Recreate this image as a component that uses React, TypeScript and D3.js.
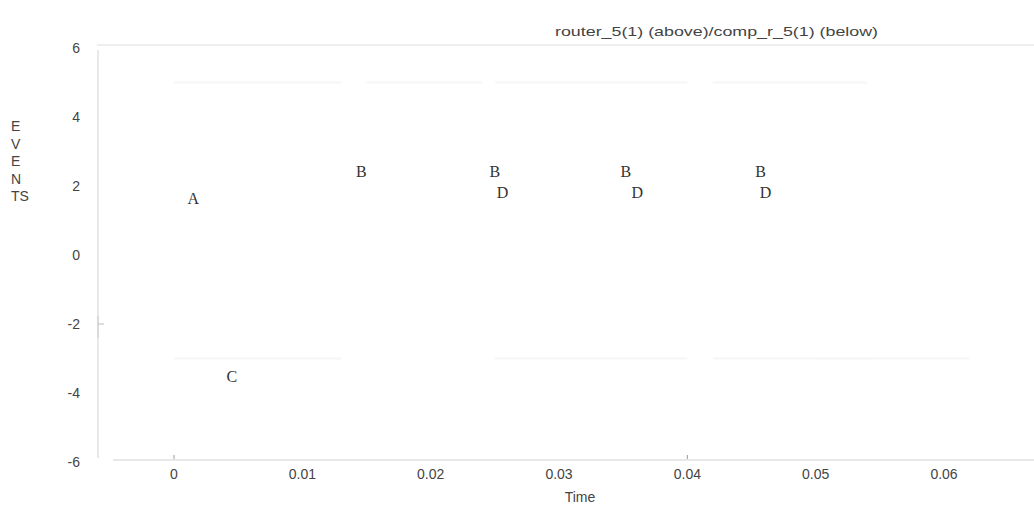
import React, { useEffect, useRef } from "react";
import * as d3 from "d3";

const W = 1034;
const H = 511;

// event markers
const eventLabels = ["A", "B", "B", "B", "B", "C", "D", "D", "D"];
const eventTimes = [0.0015, 0.0146, 0.025, 0.0352, 0.0457, 0.0045, 0.0256, 0.0361, 0.0461];
const eventValues = [1.65, 2.42, 2.42, 2.42, 2.42, -3.52, 1.82, 1.82, 1.82];

const xTicks = [0, 0.01, 0.02, 0.03, 0.04, 0.05, 0.06];
const xTickLabels = ["0", "0.01", "0.02", "0.03", "0.04", "0.05", "0.06"];
const yTicks = [6, 4, 2, 0, -2, -4, -6];

// faint leftover guide lines (time start, time end, level)
const guideStarts = [0.0, 0.015, 0.025, 0.042, 0.0, 0.025, 0.042, 0.05];
const guideEnds = [0.013, 0.024, 0.04, 0.054, 0.013, 0.04, 0.054, 0.062];
const guideLevels = [5, 5, 5, 5, -3, -3, -3, -3];

const App = () => {
  const svgRef = useRef<SVGSVGElement>(null);

  useEffect(() => {
    const svg = d3.select(svgRef.current);
    svg.selectAll("*").remove();

    const x = d3.scaleLinear().domain([0, 0.06]).range([174, 944]);
    const y = d3.scaleLinear().domain([-6, 6]).range([462, 48]);

    svg.append("rect").attr("width", W).attr("height", H).attr("fill", "#fff");

    // frame
    svg.append("line").attr("x1", 97).attr("x2", W).attr("y1", 45).attr("y2", 45)
      .attr("stroke", "#eeeeee").attr("stroke-width", 2);
    svg.append("line").attr("x1", 98).attr("x2", 98).attr("y1", 50).attr("y2", 458)
      .attr("stroke", "#e8e8e8").attr("stroke-width", 2);
    svg.append("line").attr("x1", 113).attr("x2", W).attr("y1", 460).attr("y2", 460)
      .attr("stroke", "#e8e8e8").attr("stroke-width", 2);
    svg.append("line").attr("x1", 98).attr("x2", 104).attr("y1", y(-2)).attr("y2", y(-2))
      .attr("stroke", "#bbb");
    svg.append("line").attr("x1", 98).attr("x2", 98).attr("y1", y(-2) - 8).attr("y2", y(-2) + 14)
      .attr("stroke", "#ccc");

    // faint guides
    svg.append("g").selectAll("line").data(guideLevels).join("line")
      .attr("x1", (_, i) => x(guideStarts[i]))
      .attr("x2", (_, i) => x(guideEnds[i]))
      .attr("y1", (d) => y(d))
      .attr("y2", (d) => y(d))
      .attr("stroke", "#f6f6f6")
      .attr("stroke-width", 2);

    // y tick labels
    svg.append("g").selectAll("text").data(yTicks).join("text")
      .attr("x", 80)
      .attr("y", (d) => y(d))
      .attr("dy", "0.35em")
      .attr("text-anchor", "end")
      .attr("font-family", "Liberation Sans, Arial, sans-serif")
      .attr("font-size", 14)
      .attr("fill", "#444")
      .text((d) => String(d));

    // x tick labels
    svg.append("g").selectAll("text").data(xTicks).join("text")
      .attr("x", (d) => x(d))
      .attr("y", 474)
      .attr("dy", "0.35em")
      .attr("text-anchor", "middle")
      .attr("font-family", "Liberation Sans, Arial, sans-serif")
      .attr("font-size", 14)
      .attr("fill", "#444")
      .text((_, i) => xTickLabels[i]);

    // tiny tick marks
    svg.append("g").selectAll("line").data([0, 0.04]).join("line")
      .attr("x1", (d) => x(d)).attr("x2", (d) => x(d))
      .attr("y1", 455).attr("y2", 459)
      .attr("stroke", "#999");

    // axis titles
    svg.append("text")
      .attr("x", 580).attr("y", 497)
      .attr("dy", "0.35em")
      .attr("text-anchor", "middle")
      .attr("font-family", "Liberation Sans, Arial, sans-serif")
      .attr("font-size", 14)
      .attr("fill", "#444")
      .text("Time");

    const yLetters = ["E", "V", "E", "N", "TS"];
    svg.append("g").selectAll("text").data(yLetters).join("text")
      .attr("x", 11)
      .attr("y", (_, i) => 131 + i * 17.5)
      .attr("font-family", "Liberation Sans, Arial, sans-serif")
      .attr("font-size", 14)
      .attr("fill", "#444")
      .text((d) => d);

    // title
    svg.append("text")
      .attr("x", 555).attr("y", 31)
      .attr("dy", "0.35em")
      .attr("textLength", 323)
      .attr("lengthAdjust", "spacingAndGlyphs")
      .attr("font-family", "Liberation Sans, Arial, sans-serif")
      .attr("font-size", 13)
      .attr("fill", "#444")
      .text("router_5(1) (above)/comp_r_5(1) (below)");

    // event markers
    svg.append("g").selectAll("text").data(eventLabels).join("text")
      .attr("x", (_, i) => x(eventTimes[i]))
      .attr("y", (_, i) => y(eventValues[i]))
      .attr("dy", "0.35em")
      .attr("text-anchor", "middle")
      .attr("font-family", "Liberation Serif, Times New Roman, serif")
      .attr("font-size", 16)
      .attr("fill", "#333")
      .text((d) => d);
  }, []);

  return (
    <div style={{ position: "absolute", left: 0, top: 0 }}>
      <svg ref={svgRef} width={W} height={H} style={{ display: "block" }} />
    </div>
  );
};

export default App;
